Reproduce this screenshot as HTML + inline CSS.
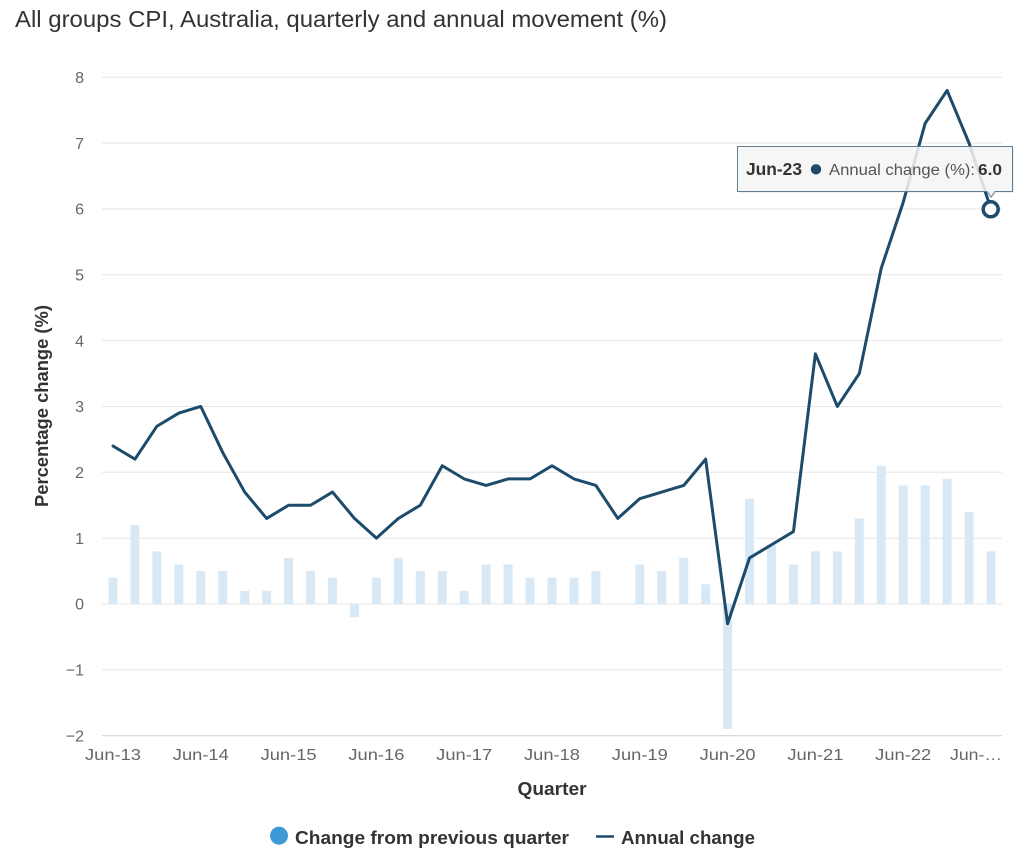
<!DOCTYPE html>
<html>
<head>
<meta charset="utf-8">
<style>
  html, body { margin:0; padding:0; background:#ffffff; }
  body { width:1024px; height:859px; overflow:hidden; }
  svg { display:block; font-family:"Liberation Sans", "DejaVu Sans", sans-serif; }
</style>
</head>
<body>
<svg width="1024" height="859" viewBox="0 0 1024 859" xmlns="http://www.w3.org/2000/svg">
  <rect x="0" y="0" width="1024" height="859" fill="#ffffff"/>

  <text x="15" y="27" font-size="23" fill="#333333" textLength="652" lengthAdjust="spacingAndGlyphs">All groups CPI, Australia, quarterly and annual movement (%)</text>

  <g stroke="#e6e6e6" stroke-width="1">
    <line x1="102" y1="77.3" x2="1002" y2="77.3"/>
    <line x1="102" y1="143.1" x2="1002" y2="143.1"/>
    <line x1="102" y1="209.0" x2="1002" y2="209.0"/>
    <line x1="102" y1="274.8" x2="1002" y2="274.8"/>
    <line x1="102" y1="340.6" x2="1002" y2="340.6"/>
    <line x1="102" y1="406.5" x2="1002" y2="406.5"/>
    <line x1="102" y1="472.3" x2="1002" y2="472.3"/>
    <line x1="102" y1="538.2" x2="1002" y2="538.2"/>
    <line x1="102" y1="604.0" x2="1002" y2="604.0"/>
    <line x1="102" y1="669.8" x2="1002" y2="669.8"/>
  </g>
  <line x1="102" y1="735.7" x2="1002" y2="735.7" stroke="#d4d4d4" stroke-width="1.2"/>

  <g font-size="16" fill="#666666" text-anchor="end">
    <text x="84" y="83">8</text>
    <text x="84" y="148.8">7</text>
    <text x="84" y="214.7">6</text>
    <text x="84" y="280.5">5</text>
    <text x="84" y="346.3">4</text>
    <text x="84" y="412.2">3</text>
    <text x="84" y="478">2</text>
    <text x="84" y="543.9">1</text>
    <text x="84" y="609.7">0</text>
    <text x="84" y="675.5">−1</text>
    <text x="84" y="741.4">−2</text>
  </g>

  <text transform="translate(48,406) rotate(-90)" text-anchor="middle" font-size="18.5" font-weight="bold" fill="#333333" textLength="202" lengthAdjust="spacingAndGlyphs">Percentage change (%)</text>

  <g fill="#d8e8f5">
    <rect x="108.5" y="577.66" width="9" height="26.34"/>
    <rect x="130.45" y="524.99" width="9" height="79.01"/>
    <rect x="152.4" y="551.33" width="9" height="52.67"/>
    <rect x="174.35" y="564.5" width="9" height="39.5"/>
    <rect x="196.3" y="571.08" width="9" height="32.92"/>
    <rect x="218.25" y="571.08" width="9" height="32.92"/>
    <rect x="240.2" y="590.83" width="9" height="13.17"/>
    <rect x="262.15" y="590.83" width="9" height="13.17"/>
    <rect x="284.1" y="557.91" width="9" height="46.09"/>
    <rect x="306.05" y="571.08" width="9" height="32.92"/>
    <rect x="328.0" y="577.66" width="9" height="26.34"/>
    <rect x="349.95" y="604" width="9" height="13.17"/>
    <rect x="371.9" y="577.66" width="9" height="26.34"/>
    <rect x="393.85" y="557.91" width="9" height="46.09"/>
    <rect x="415.8" y="571.08" width="9" height="32.92"/>
    <rect x="437.75" y="571.08" width="9" height="32.92"/>
    <rect x="459.7" y="590.83" width="9" height="13.17"/>
    <rect x="481.65" y="564.5" width="9" height="39.5"/>
    <rect x="503.6" y="564.5" width="9" height="39.5"/>
    <rect x="525.55" y="577.66" width="9" height="26.34"/>
    <rect x="547.5" y="577.66" width="9" height="26.34"/>
    <rect x="569.45" y="577.66" width="9" height="26.34"/>
    <rect x="591.4" y="571.08" width="9" height="32.92"/>
    <rect x="635.3" y="564.5" width="9" height="39.5"/>
    <rect x="657.25" y="571.08" width="9" height="32.92"/>
    <rect x="679.2" y="557.91" width="9" height="46.09"/>
    <rect x="701.15" y="584.25" width="9" height="19.75"/>
    <rect x="723.1" y="604" width="9" height="125.1"/>
    <rect x="745.05" y="498.66" width="9" height="105.34"/>
    <rect x="767.0" y="544.74" width="9" height="59.26"/>
    <rect x="788.95" y="564.5" width="9" height="39.5"/>
    <rect x="810.9" y="551.33" width="9" height="52.67"/>
    <rect x="832.85" y="551.33" width="9" height="52.67"/>
    <rect x="854.8" y="518.41" width="9" height="85.59"/>
    <rect x="876.75" y="465.74" width="9" height="138.26"/>
    <rect x="898.7" y="485.49" width="9" height="118.51"/>
    <rect x="920.65" y="485.49" width="9" height="118.51"/>
    <rect x="942.6" y="478.9" width="9" height="125.1"/>
    <rect x="964.55" y="511.82" width="9" height="92.18"/>
    <rect x="986.5" y="551.33" width="9" height="52.67"/>
  </g>

  <polyline fill="none" stroke="#1d4b6b" stroke-width="3" stroke-linejoin="round" stroke-linecap="round"
    points="113.0,445.98 134.95,459.15 156.9,426.23 178.85,413.06 200.8,406.48 222.75,452.57 244.7,492.07 266.65,518.41 288.6,505.24 310.55,505.24 332.5,492.07 354.45,518.41 376.4,538.16 398.35,518.41 420.3,505.24 442.25,465.74 464.2,478.90 486.15,485.49 508.1,478.90 530.05,478.90 552.0,465.74 573.95,478.90 595.9,485.49 617.85,518.41 639.8,498.66 661.75,492.07 683.7,485.49 705.65,459.15 727.6,623.75 749.55,557.91 771.5,544.74 793.45,531.58 815.4,353.81 837.35,406.48 859.3,373.56 881.25,268.22 903.2,202.38 925.15,123.37 947.1,90.45 969.05,143.12 991.0,208.96"/>

  <g font-size="15.5" fill="#666666" text-anchor="middle">
    <text x="113.0" y="760" textLength="56" lengthAdjust="spacingAndGlyphs">Jun-13</text>
    <text x="200.8" y="760" textLength="56" lengthAdjust="spacingAndGlyphs">Jun-14</text>
    <text x="288.6" y="760" textLength="56" lengthAdjust="spacingAndGlyphs">Jun-15</text>
    <text x="376.4" y="760" textLength="56" lengthAdjust="spacingAndGlyphs">Jun-16</text>
    <text x="464.2" y="760" textLength="56" lengthAdjust="spacingAndGlyphs">Jun-17</text>
    <text x="552.0" y="760" textLength="56" lengthAdjust="spacingAndGlyphs">Jun-18</text>
    <text x="639.8" y="760" textLength="56" lengthAdjust="spacingAndGlyphs">Jun-19</text>
    <text x="727.6" y="760" textLength="56" lengthAdjust="spacingAndGlyphs">Jun-20</text>
    <text x="815.4" y="760" textLength="56" lengthAdjust="spacingAndGlyphs">Jun-21</text>
    <text x="903.2" y="760" textLength="56" lengthAdjust="spacingAndGlyphs">Jun-22</text>
    <text x="976" y="760" textLength="52" lengthAdjust="spacingAndGlyphs">Jun-…</text>
  </g>

  <text x="552" y="795" text-anchor="middle" font-size="18.5" font-weight="bold" fill="#333333" textLength="69" lengthAdjust="spacingAndGlyphs">Quarter</text>

  <circle cx="279" cy="835.7" r="9" fill="#3d9ad6"/>
  <text x="295" y="844" font-size="18.5" font-weight="bold" fill="#333333" textLength="274" lengthAdjust="spacingAndGlyphs">Change from previous quarter</text>
  <line x1="596" y1="836.5" x2="614" y2="836.5" stroke="#1d4b6b" stroke-width="2.5"/>
  <text x="621" y="844" font-size="18.5" font-weight="bold" fill="#333333" textLength="134" lengthAdjust="spacingAndGlyphs">Annual change</text>

  <path d="M739,148 H1014 V193 H996.5 L992.5,198.5 L988.5,193 H739 Z" fill="#000000" fill-opacity="0.06"/>
  <path d="M737.5,146.5 H1012.5 V191.5 H995 L991,197 L987,191.5 H737.5 Z" fill="#f7f7f7" fill-opacity="0.86" stroke="#5f7d93" stroke-width="1"/>
  <text x="746" y="175" font-size="17.5" font-weight="bold" fill="#333333" textLength="56" lengthAdjust="spacingAndGlyphs">Jun-23</text>
  <circle cx="816" cy="169.3" r="5.2" fill="#1d4b6b"/>
  <text x="829" y="175" font-size="15.5" fill="#555555" textLength="146" lengthAdjust="spacingAndGlyphs">Annual change (%):</text>
  <text x="978" y="175" font-size="15.5" font-weight="bold" fill="#333333" textLength="24" lengthAdjust="spacingAndGlyphs">6.0</text>

  <circle cx="990.7" cy="209.3" r="7.5" fill="#ffffff" stroke="#1d4b6b" stroke-width="3.5"/>
</svg>
</body>
</html>
